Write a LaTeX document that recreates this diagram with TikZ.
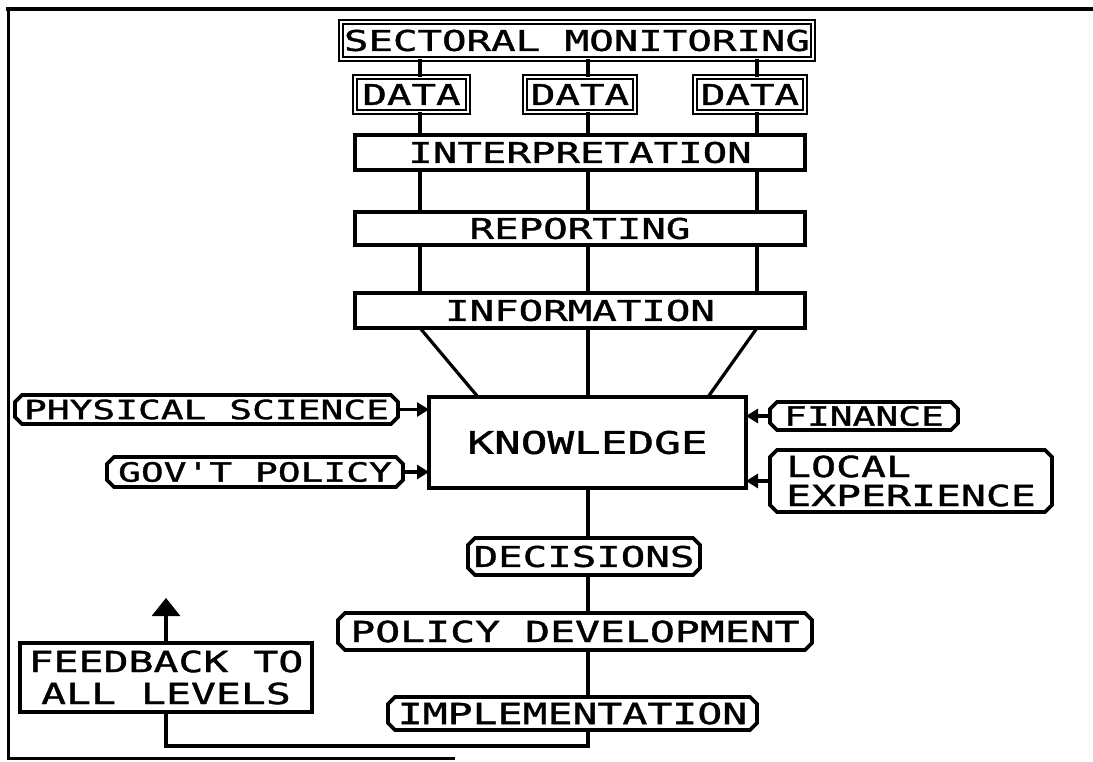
\documentclass[tikz,border=0pt]{standalone}
\usepackage{fontspec}
\newfontfamily\pf[FakeStretch=1.43,FakeBold=1.3]{DejaVu Sans Mono}
\usetikzlibrary{arrows.meta,shapes.misc}
\begin{document}
\begin{tikzpicture}[x=1pt,y=-1pt,
  lbl/.style={font=\pf\fontsize{28.5}{30}\selectfont, inner sep=0pt, outer sep=0pt},
  bar/.style={lbl, draw, line width=4.5pt, rectangle},
  dbl/.style={lbl, draw, double, double distance=1.5pt, line width=2.2pt},
  oct/.style={lbl, draw, chamfered rectangle, chamfered rectangle xsep=3.5pt, chamfered rectangle ysep=3.5pt, line width=3.8pt},
  conn/.style={line width=3.2pt},
  inarrow/.style={line width=3.2pt, -{Triangle[length=12pt,width=14pt]}},
  uparrow/.style={line width=3.2pt, -{Triangle[length=18pt,width=28pt]}}
]
\useasboundingbox (0,0) rectangle (1093,762);
% frame
\draw[line width=4pt] (6,9) -- (1093,9);
\draw[line width=3pt] (8,8) -- (8,758) -- (455,758);

% column coordinates
\coordinate (c1) at (420,0);
\coordinate (c2) at (588,0);
\coordinate (c3) at (757,0);
\coordinate (kl) at (478,0);
\coordinate (kr) at (708,0);
\coordinate (yb) at (0,746);
\coordinate (fbtip) at (166,598);

\node[dbl, minimum width=472pt, minimum height=37pt] (sm) at (577,40.5) {SECTORAL MONITORING};
\node[dbl, minimum width=113pt, minimum height=35pt] (d1) at (411.5,94.5) {DATA};
\node[dbl, minimum width=110pt, minimum height=35pt] (d2) at (580,94.5) {DATA};
\node[dbl, minimum width=110pt, minimum height=35pt] (d3) at (750,94.5) {DATA};
\node[bar, minimum width=450pt, minimum height=35pt] (interp) at (580,152.5) {INTERPRETATION};
\node[bar, minimum width=450pt, minimum height=33pt] (rep) at (580,228.5) {REPORTING};
\node[bar, minimum width=450pt, minimum height=35pt] (info) at (580,310.5) {INFORMATION};
\node[bar, minimum width=317pt, minimum height=91pt, font=\pf\fontsize{31}{32}\selectfont] (know) at (587.5,442.5) {KNOWLEDGE};
\node[oct, minimum width=383pt, minimum height=29pt, font=\pf\fontsize{26.5}{28}\selectfont] (phys) at (206.5,409.5) {PHYSICAL SCIENCE};
\node[oct, minimum width=296pt, minimum height=30pt, font=\pf\fontsize{26.5}{28}\selectfont] (gov) at (255,472) {GOV'T POLICY};
\node[oct, minimum width=188pt, minimum height=28pt, font=\pf\fontsize{26.5}{28}\selectfont] (fin) at (864,416) {FINANCE};
\node[oct, minimum width=282pt, minimum height=62pt, font=\pf\fontsize{29}{29}\selectfont, align=left] (local) at (911,481) {LOCAL\\EXPERIENCE};
\node[oct, minimum width=232pt, minimum height=37pt] (dec) at (584,556.5) {DECISIONS};
\node[oct, minimum width=474pt, minimum height=37pt, font=\pf\fontsize{29}{30}\selectfont] (pdev) at (575,631.5) {POLICY DEVELOPMENT};
\node[oct, minimum width=369pt, minimum height=33pt, font=\pf\fontsize{29}{30}\selectfont] (impl) at (572.5,713.5) {IMPLEMENTATION};
\node[bar, line width=3.5pt, minimum width=292pt, minimum height=69pt, align=center, font=\pf\fontsize{29}{32}\selectfont] (fb) at (166,677.5) {FEEDBACK TO\\ALL LEVELS};

% vertical connectors
\foreach \c/\d in {c1/d1,c2/d2,c3/d3}{
  \draw[conn] (sm.south -| \c) -- (\d.north -| \c);
  \draw[conn] (\d.south -| \c) -- (interp.north -| \c);
}
\foreach \c in {c1,c2,c3}{
  \draw[conn] (interp.south -| \c) -- (rep.north -| \c);
  \draw[conn] (rep.south -| \c) -- (info.north -| \c);
}
\draw[conn] (info.south -| c2) -- (know.north -| c2);
\draw[conn] (info.south -| c1) -- (know.north -| kl);
\draw[conn] (info.south -| c3) -- (know.north -| kr);

% side inputs
\draw[inarrow] (phys.east) -- (know.west |- phys.east);
\draw[inarrow] (gov.east) -- (know.west |- gov.east);
\draw[inarrow] (fin.west) -- (know.east |- fin.west);
\draw[inarrow] (local.west) -- (know.east |- local.west);

% downward chain
\draw[conn] (know.south -| c2) -- (dec.north -| c2);
\draw[conn] (dec.south -| c2) -- (pdev.north -| c2);
\draw[conn] (pdev.south -| c2) -- (impl.north -| c2);
\draw[conn] (impl.south -| c2) -- (c2 |- yb) -| (fb.south);
\draw[uparrow] (fb.north) -- (fbtip);
\end{tikzpicture}
\end{document}
